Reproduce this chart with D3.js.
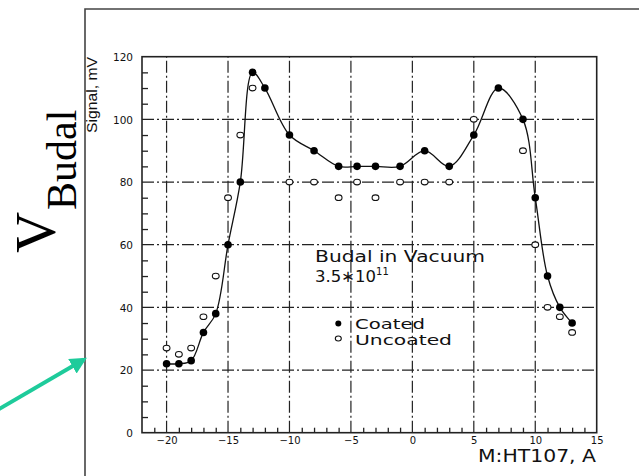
<!DOCTYPE html>
<html>
<head>
<meta charset="utf-8">
<script src="https://cdn.jsdelivr.net/npm/d3@7"></script>
<style>
  html, body { margin: 0; padding: 0; background: #fff; }
  svg { display: block; }
</style>
</head>
<body>
<svg id="chart" width="639" height="476"></svg>
<script>
// Budal monitor signal vs. HT107 current, coated vs. uncoated chamber
const coatedX = [-20, -19, -18, -17, -16, -15, -14, -13, -12, -10, -8, -6, -4.5, -3, -1, 1, 3, 5, 7, 9, 10, 11, 12, 13];
const coatedY = [22, 22, 23, 32, 38, 60, 80, 115, 110, 95, 90, 85, 85, 85, 85, 90, 85, 95, 110, 100, 75, 50, 40, 35];
const uncoatedX = [-20, -19, -18, -17, -16, -15, -14, -13, -10, -8, -6, -4.5, -3, -1, 1, 3, 5, 9, 10, 11, 12, 13];
const uncoatedY = [27, 25, 27, 37, 50, 75, 95, 110, 80, 80, 75, 80, 75, 80, 80, 80, 100, 90, 60, 40, 37, 32];
const xMajorTicks = [-20, -15, -10, -5, 0, 5, 10, 15];
const yMajorTicks = [0, 20, 40, 60, 80, 100, 120];

const svg = d3.select("#chart");
const ink = "#222";

const x = d3.scaleLinear().domain([-22, 15]).range([142, 596.7]);
const y = d3.scaleLinear().domain([0, 120]).range([432.7, 56.7]);

// outer frame (open to the right and bottom)
svg.append("path")
  .attr("d", "M85,480 L85,9 L645,9")
  .attr("fill", "none").attr("stroke", "#444").attr("stroke-width", 1.6);

// dash-dot grid at major ticks
const grid = svg.append("g").attr("stroke", ink).attr("stroke-width", 1.2)
  .attr("stroke-dasharray", "12,3,2,3");
grid.selectAll("line.v").data(xMajorTicks.filter(d => d < 15)).join("line")
  .attr("x1", d => x(d)).attr("x2", d => x(d))
  .attr("y1", y(0)).attr("y2", y(120));
grid.selectAll("line.h").data(yMajorTicks.filter(d => d > 0 && d < 120)).join("line")
  .attr("x1", x(-22)).attr("x2", x(15))
  .attr("y1", d => y(d)).attr("y2", d => y(d));

// minor ticks (inward) via axes
const xMinor = d3.range(-21, 15, 1).filter(d => !xMajorTicks.includes(d));
const yMinor = d3.range(5, 120, 5).filter(d => d % 20 !== 0);

svg.append("g").attr("transform", `translate(0,${y(0)})`)
  .call(d3.axisBottom(x).tickValues(xMinor).tickSize(-5).tickFormat(""))
  .call(g => g.select(".domain").remove())
  .selectAll("line").attr("stroke", ink).attr("stroke-width", 1.3);
svg.append("g").attr("transform", `translate(${x(-22)},0)`)
  .call(d3.axisLeft(y).tickValues(yMinor).tickSize(-6).tickFormat(""))
  .call(g => g.select(".domain").remove())
  .selectAll("line").attr("stroke", ink).attr("stroke-width", 1.3);

// plot box
svg.append("rect")
  .attr("x", x(-22)).attr("y", y(120))
  .attr("width", x(15) - x(-22)).attr("height", y(0) - y(120))
  .attr("fill", "none").attr("stroke", ink).attr("stroke-width", 1.6);

// tick labels
const tickFont = "'DejaVu Sans', sans-serif";
svg.append("g").attr("transform", `translate(0,${y(0)})`)
  .call(d3.axisBottom(x).tickValues(xMajorTicks).tickSize(0).tickPadding(0)
    .tickFormat(d => d < 0 ? "\u2212" + Math.abs(d) : String(d)))
  .call(g => g.select(".domain").remove())
  .selectAll("text")
  .attr("y", 11).attr("dy", 0)
  .attr("font-family", tickFont).attr("font-size", 10).attr("fill", "#111");

svg.append("g").attr("transform", `translate(${x(-22)},0)`)
  .call(d3.axisLeft(y).tickValues(yMajorTicks).tickSize(0).tickPadding(9))
  .call(g => g.select(".domain").remove())
  .selectAll("text")
  .attr("dy", "0.35em")
  .attr("font-family", tickFont).attr("font-size", 10.5).attr("fill", "#111");

// axis titles
svg.append("text")
  .attr("transform", "translate(97,133) rotate(-90)")
  .attr("font-family", "'Liberation Sans', Arial, sans-serif").attr("font-size", 14.5)
  .attr("textLength", 76).attr("lengthAdjust", "spacingAndGlyphs")
  .attr("fill", "#111")
  .text("Signal, mV");

svg.append("text")
  .attr("x", 596).attr("y", 462)
  .attr("text-anchor", "end")
  .attr("font-family", tickFont).attr("font-size", 18)
  .attr("textLength", 118).attr("lengthAdjust", "spacingAndGlyphs")
  .attr("fill", "#111")
  .text("M:HT107, A");

// coated curve
const line = d3.line()
  .x((d, i) => x(coatedX[i]))
  .y(d => y(d))
  .curve(d3.curveCatmullRom.alpha(0.5));
svg.append("path")
  .attr("d", line(coatedY))
  .attr("fill", "none").attr("stroke", "#111").attr("stroke-width", 1.3);

// markers
svg.append("g").selectAll("ellipse").data(uncoatedY).join("ellipse")
  .attr("cx", (d, i) => x(uncoatedX[i])).attr("cy", d => y(d))
  .attr("rx", 3.4).attr("ry", 2.8)
  .attr("fill", "#fff").attr("stroke", "#111").attr("stroke-width", 1.1);
svg.append("g").selectAll("circle").data(coatedY).join("circle")
  .attr("cx", (d, i) => x(coatedX[i])).attr("cy", d => y(d))
  .attr("r", 3.8).attr("fill", "#000");

// legend block
const legFont = "'DejaVu Sans', sans-serif";
svg.append("text")
  .attr("x", 315).attr("y", 261.5)
  .attr("font-family", legFont).attr("font-size", 16.5)
  .attr("textLength", 170).attr("lengthAdjust", "spacingAndGlyphs")
  .attr("fill", "#111").text("Budal in Vacuum");
const sci = svg.append("text")
  .attr("x", 315).attr("y", 282)
  .attr("font-family", legFont).attr("font-size", 16.5).attr("fill", "#111");
sci.append("tspan").text("3.5\u221710");
sci.append("tspan").attr("dy", -7).attr("font-size", 10).text("11");

svg.append("circle").attr("cx", 338.3).attr("cy", 323.5).attr("r", 3).attr("fill", "#000");
svg.append("ellipse").attr("cx", 338.3).attr("cy", 338.5).attr("rx", 3).attr("ry", 2.5)
  .attr("fill", "#fff").attr("stroke", "#111").attr("stroke-width", 1.1);
svg.append("text")
  .attr("x", 355).attr("y", 328.5)
  .attr("font-family", legFont).attr("font-size", 14)
  .attr("textLength", 70).attr("lengthAdjust", "spacingAndGlyphs")
  .attr("fill", "#111").text("Coated");
svg.append("text")
  .attr("x", 355).attr("y", 345)
  .attr("font-family", legFont).attr("font-size", 14)
  .attr("textLength", 97).attr("lengthAdjust", "spacingAndGlyphs")
  .attr("fill", "#111").text("Uncoated");

// big rotated V_Budal label
const vlab = svg.append("g").attr("transform", "rotate(-90)")
  .attr("font-family", "'Liberation Serif', 'Times New Roman', serif").attr("fill", "#000");
vlab.append("text").attr("x", -253).attr("y", 55).attr("font-size", 57).text("V");
vlab.append("text").attr("x", -210).attr("y", 76).attr("font-size", 42).text("Budal");

// teal arrow
const defs = svg.append("defs");
defs.append("marker").attr("id", "head")
  .attr("viewBox", "0 0 10 10").attr("refX", 8).attr("refY", 5)
  .attr("markerWidth", 4.2).attr("markerHeight", 4.2).attr("orient", "auto")
  .append("path").attr("d", "M0,0 L10,5 L0,10 Z").attr("fill", "#1ecb9b");
svg.append("line")
  .attr("x1", -6).attr("y1", 412).attr("x2", 84).attr("y2", 359.5)
  .attr("stroke", "#1ecb9b").attr("stroke-width", 4)
  .attr("marker-end", "url(#head)");
</script>
</body>
</html>
